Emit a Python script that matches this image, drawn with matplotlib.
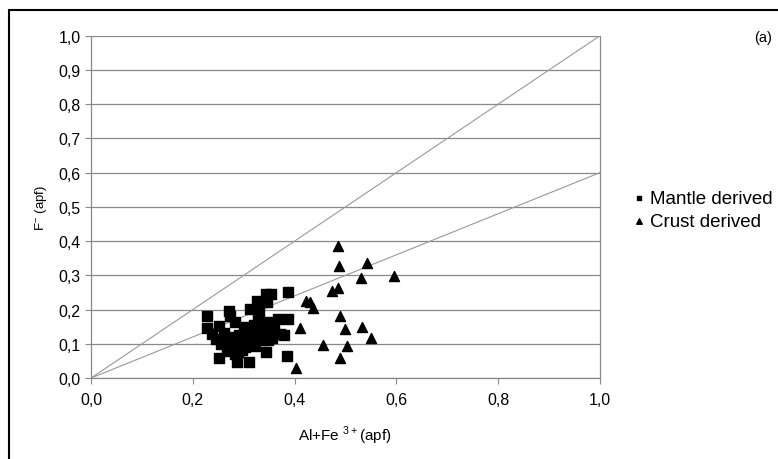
import numpy as np
import matplotlib.pyplot as plt
from matplotlib.patches import Rectangle

plt.rcParams['font.family'] = ['Liberation Sans', 'DejaVu Sans']

# Mantle derived (squares)
mantle_x = [0.344, 0.354, 0.387, 0.326, 0.336, 0.346, 0.313, 0.331, 0.272, 0.274,
            0.282, 0.228, 0.367, 0.388, 0.228, 0.251, 0.238, 0.262, 0.270, 0.379,
            0.267, 0.251, 0.283, 0.287, 0.310, 0.343, 0.385, 0.313, 0.323, 0.320,
            0.333, 0.346, 0.356, 0.316, 0.330, 0.340, 0.352, 0.362, 0.372, 0.290,
            0.300, 0.310, 0.322, 0.335, 0.348, 0.356, 0.280, 0.292, 0.302, 0.245,
            0.255, 0.278, 0.297, 0.289, 0.335, 0.305, 0.345, 0.328, 0.360, 0.300]
mantle_y = [0.246, 0.246, 0.252, 0.226, 0.221, 0.221, 0.202, 0.194, 0.197, 0.182,
            0.163, 0.182, 0.172, 0.172, 0.145, 0.153, 0.129, 0.133, 0.119, 0.126,
            0.080, 0.060, 0.070, 0.046, 0.046, 0.077, 0.065, 0.099, 0.094, 0.155,
            0.158, 0.155, 0.152, 0.140, 0.137, 0.145, 0.135, 0.130, 0.128, 0.125,
            0.120, 0.115, 0.118, 0.112, 0.110, 0.118, 0.108, 0.100, 0.092, 0.115,
            0.100, 0.090, 0.082, 0.075, 0.125, 0.105, 0.165, 0.170, 0.160, 0.150]

# Crust derived (triangles)
crust_x = [0.485, 0.487, 0.543, 0.595, 0.530, 0.474, 0.485, 0.423, 0.431, 0.436,
           0.489, 0.411, 0.500, 0.533, 0.551, 0.456, 0.503, 0.489, 0.402]
crust_y = [0.385, 0.328, 0.336, 0.299, 0.291, 0.255, 0.262, 0.226, 0.221, 0.204,
           0.182, 0.145, 0.143, 0.148, 0.116, 0.096, 0.094, 0.060, 0.028]

ref_slopes = [1.0, 0.6]
xticks = np.arange(0, 1.01, 0.2)
yticks = np.arange(0, 1.01, 0.1)

fig = plt.figure(figsize=(7.78, 4.6), dpi=100)
ax = fig.add_axes([0.117, 0.176, 0.654, 0.744])

# reference lines y = x and y = 0.6x
for s in ref_slopes:
    ax.plot([0, 1], [0, s], color='#999999', lw=0.8, zorder=1)

ax.scatter(mantle_x, mantle_y, marker='s', s=42, color='black', zorder=3,
           label='Mantle derived')
ax.scatter(crust_x, crust_y, marker='^', s=52, color='black', zorder=3,
           label='Crust derived')

ax.set_xlim(0, 1)
ax.set_ylim(0, 1)
ax.set_xticks(xticks)
ax.set_yticks(yticks)
ax.set_xticklabels([('%.1f' % v).replace('.', ',') for v in xticks])
ax.set_yticklabels([('%.1f' % v).replace('.', ',') for v in yticks])
ax.tick_params(labelsize=11.5, color='#888888', length=4, width=0.8)
ax.tick_params(axis='x', pad=6)
ax.yaxis.grid(True, color='#888888', lw=0.9)
ax.set_axisbelow(True)
for sp in ax.spines.values():
    sp.set_color('#888888')
    sp.set_linewidth(0.9)
ax.spines['top'].set_visible(False)

ax.set_xlabel('Al+Fe $^{\\mathregular{3+}}$(apf)', fontsize=11, labelpad=12)
ax.set_ylabel('F$^{\\mathregular{-}}$ (apf)', fontsize=9.5, labelpad=7)

fig.legend(loc='center left', bbox_to_anchor=(0.812, 0.542), frameon=False,
           fontsize=13.5, handletextpad=0.15, handlelength=0.8, markerscale=0.55,
           labelspacing=0.3, borderaxespad=0, borderpad=0)

fig.text(0.992, 0.917, '(a)', fontsize=10.5, ha='right', va='center')

fig.patches.append(Rectangle((9 / 778, -0.01), 1.0, 1 - 11 / 460 + 0.01,
                             transform=fig.transFigure, fill=False,
                             edgecolor='black', lw=1.5))

plt.savefig('out.png', format='png', dpi=100)
